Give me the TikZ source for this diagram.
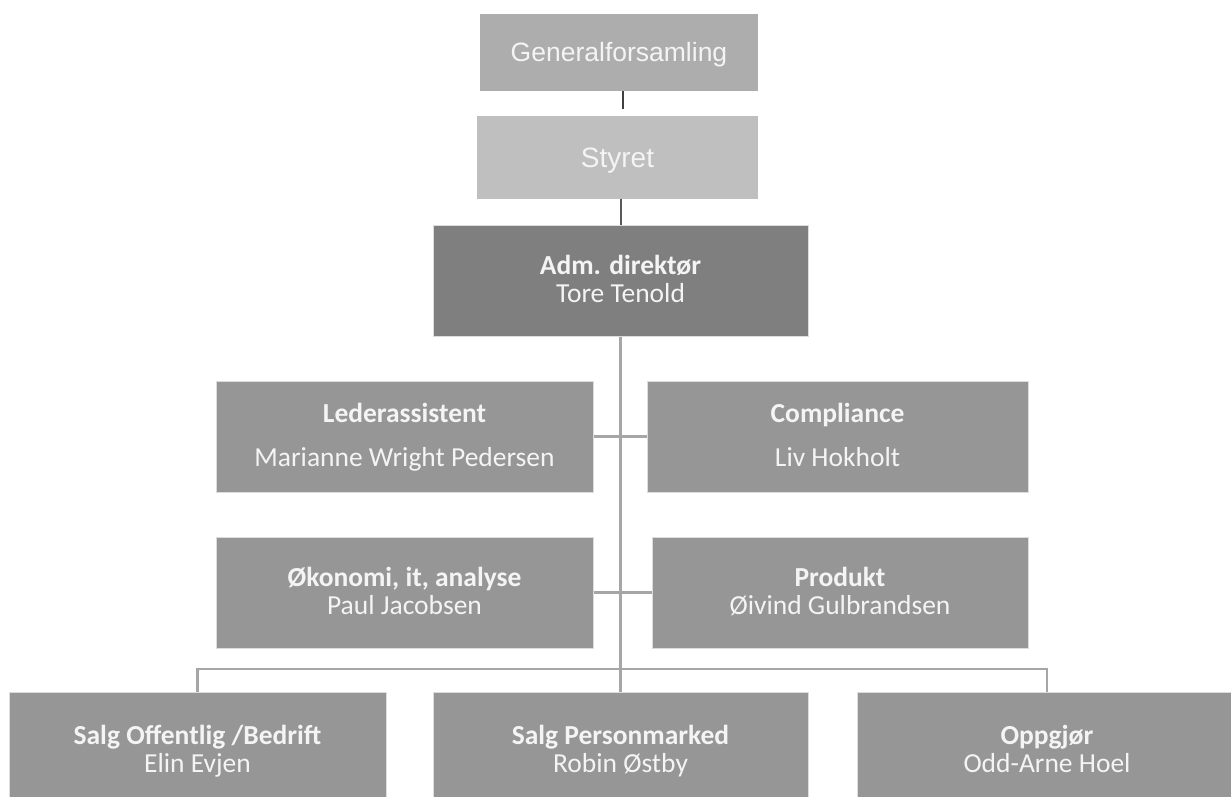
\documentclass[tikz,border=0pt]{standalone}
\usepackage{fontspec}
\setmainfont{Carlito}
\newfontfamily\arialfont{Liberation Sans}

\definecolor{genfill}{HTML}{ADADAD}
\definecolor{styrefill}{HTML}{BFBFBF}
\definecolor{admfill}{HTML}{7F7F7F}
\definecolor{unitfill}{HTML}{969696}
\definecolor{boxedge}{HTML}{DCDCDC}
\definecolor{boxtext}{HTML}{F4F4F4}
\definecolor{linkgray}{HTML}{A6A6A6}

\newcommand{\unitlines}[3][0pt]{\rule{0pt}{24.6pt}\textbf{#2}\\[#1]#3\strut}

\begin{document}
\begin{tikzpicture}[x = 1pt, y = -1pt,
        orgbox/.style = {draw = boxedge, line width = 1pt, fill = unitfill, text = boxtext,
                         minimum width = 375pt, minimum height = 111pt, inner sep = 0pt,
                         align = center, font = \fontsize{27.5}{28.5}\selectfont},
        topbox/.style = {fill = genfill, text = boxtext, inner sep = 0pt, align = center, text depth = 0pt},
        link/.style = {draw = linkgray, line width = 2.5pt}]
    % \draw[style = help lines, step = 100] (0,0) grid (1231,797);
    \useasboundingbox (0,0) rectangle (1231,797);
    \clip (0,0) rectangle (1231,797);

    \node[topbox, minimum width = 278pt, minimum height = 77pt, text height = 19pt,
          font = \arialfont\fontsize{26.5}{28}\selectfont] (gen) at (619, 52.5) {Generalforsamling};
    \node[topbox, fill = styrefill, minimum width = 281pt, minimum height = 82pt, text height = 20pt,
          font = \arialfont\fontsize{28}{30}\selectfont] (styret) at (617.5, 157.5) {Styret};

    \node[orgbox, fill = admfill] (adm) at (620.5, 280.5) {\unitlines{Adm. direktør}{Tore Tenold}};

    \node[orgbox, minimum width = 377pt] (leder) at (404.5, 436.5) {\unitlines[16pt]{Lederassistent}{Marianne Wright Pedersen}};
    \node[orgbox, minimum width = 381pt] (compl) at (837.5, 436.5) {\unitlines[16pt]{Compliance}{Liv Hokholt}};

    \node[orgbox, minimum width = 377pt] (okonomi) at (404.5, 592.5) {\unitlines{Økonomi, it, analyse}{Paul Jacobsen}};
    \node[orgbox, minimum width = 376pt] (produkt) at (840, 592.5) {\unitlines{Produkt}{Øivind Gulbrandsen}};

    \node[orgbox, minimum width = 377pt, minimum height = 117pt] (salgoff) at (197.5, 750.5) {\unitlines{Salg Offentlig /Bedrift}{Elin Evjen}};
    \node[orgbox, minimum height = 117pt] (salgpm) at (620.5, 750.5) {\unitlines{Salg Personmarked}{Robin Østby}};
    \node[orgbox, minimum width = 380pt, minimum height = 117pt] (oppgjor) at (1047, 750.5) {\unitlines{Oppgjør}{Odd-Arne Hoel}};

    \coordinate (bus) at (621, 669);

    \draw[line width = 2pt, black!75] (gen.south) ++(4,0) -- ++(0,18);
    \draw[line width = 2pt, black!65] (adm.north |- styret.south) -- (adm.north);

    \draw[link, line width = 3pt] (adm.south) -- (salgpm.north);
    \draw[link] (leder) -- (compl);
    \draw[link] (okonomi) -- (produkt);
    \draw[link] (salgoff.north) |- (bus) -| (oppgjor.north);
\end{tikzpicture}
\end{document}
